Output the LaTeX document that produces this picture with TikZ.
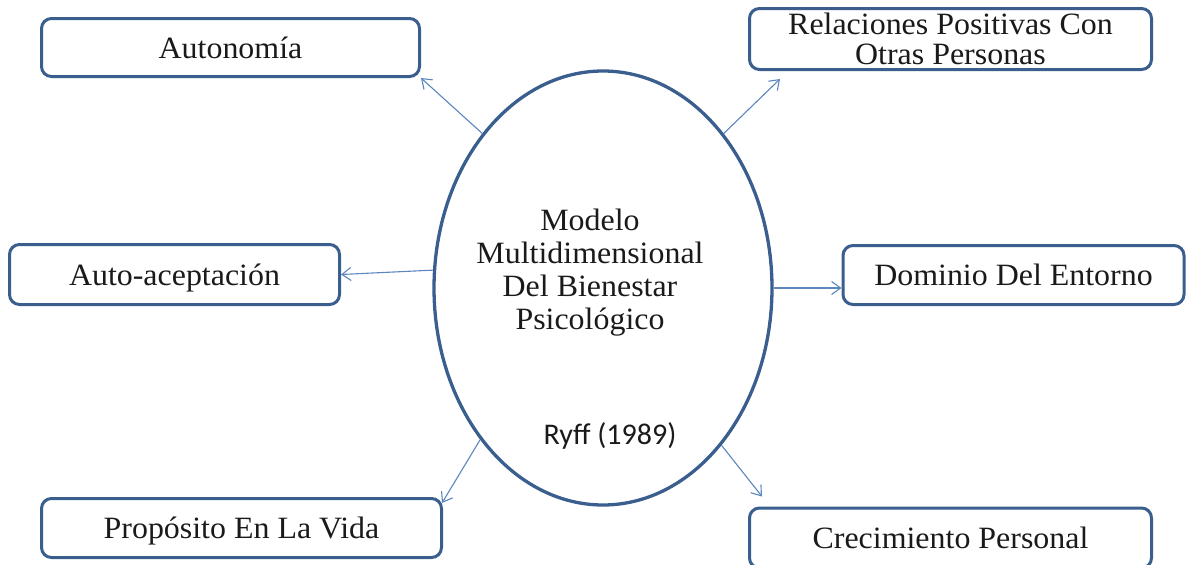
\documentclass[tikz,border=0pt]{standalone}
\usepackage{fontspec}
\setmainfont[FakeStretch=1.03]{Liberation Serif}
\newfontfamily\carl{Carlito}
\usetikzlibrary{shapes.geometric,arrows.meta}
\definecolor{boxblue}{HTML}{3A5F8F}
\definecolor{arrblue}{HTML}{5B86BE}
\definecolor{txt}{HTML}{1A1A1A}
\begin{document}
\begin{tikzpicture}[x=1pt,y=-1pt,
  box/.style={draw=boxblue, line width=3pt, rounded corners=10pt, fill=white,
    inner sep=0pt, align=center, font=\fontsize{31}{30}\selectfont, text=txt},
  one/.style={text height=21pt, text depth=0pt},
  conn/.style={draw=arrblue, line width=1.1pt,
    -{Straight Barb[length=9pt,width=13pt,line width=1.1pt]}}]
\useasboundingbox (0,0) rectangle (1187,565);
\node[ellipse, draw=boxblue, line width=3.3pt, minimum width=338pt,
  minimum height=434pt, inner sep=0pt] (m) at (603,288) {};
\node[font=\fontsize{31}{33}\selectfont, align=center, text=txt] (mt) at (590,273)
  {Modelo\\Multidimensional\\Del Bienestar\\Psicológico};
\node[font=\carl\fontsize{30}{30}\selectfont, text=txt] (ry) at (610,436) {Ryff (1989)};

\node[box, one, minimum width=378pt, minimum height=58pt] (au) at (230.5,47.5) {Autonomía};
\node[box, minimum width=402pt, minimum height=61pt] (re) at (950.5,39) {Relaciones Positivas Con\\Otras Personas};
\node[box, one, minimum width=330pt, minimum height=60pt] (ac) at (174.5,274.5) {Auto-aceptación};
\node[box, one, minimum width=341pt, minimum height=59pt] (do) at (1013.5,275) {Dominio Del Entorno};
\node[box, one, minimum width=400pt, minimum height=59pt] (pr) at (241.5,528) {Propósito En La Vida};
\node[box, one, minimum width=402pt, minimum height=60pt] (cr) at (950.5,538) {Crecimiento Personal};

\draw[conn] (m.128.5) -- (au.south east);
\draw[conn] (m.52.4) -- ([xshift=32pt,yshift=-8pt]re.south west);
\draw[conn] (m.174) -- (ac.east);
\draw[conn] (m.east) -- (m.east -| do.west);
\draw[conn] (m.231.9) -- ([xshift=-1pt,yshift=-6pt]pr.north east);
\draw[conn] (m.307.2) -- ([xshift=14pt,yshift=10pt]cr.north west);
\end{tikzpicture}
\end{document}
